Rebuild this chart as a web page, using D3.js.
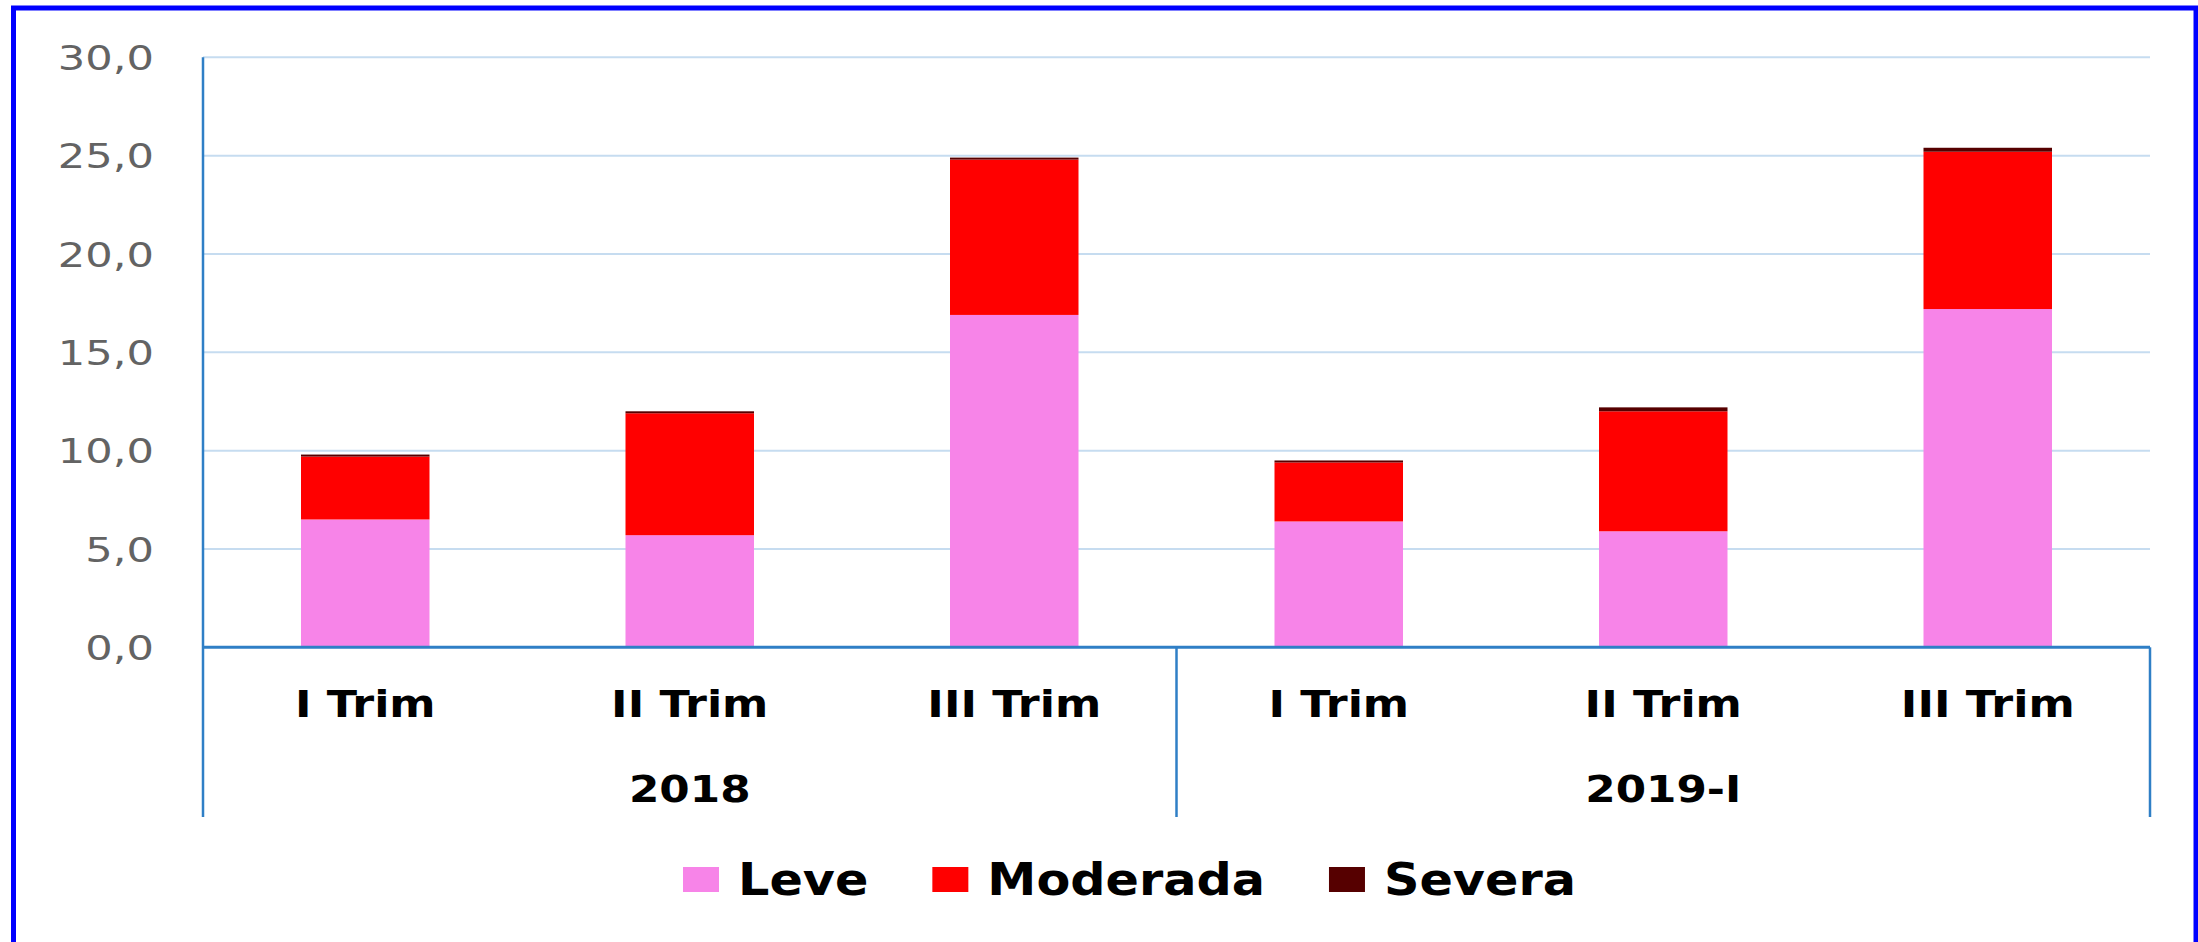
<!DOCTYPE html>
<head>
<meta charset="utf-8">
<title>Anemia por trimestre</title>
<style>
  body { margin: 0; background: #fff; }
  svg { display: block; }
</style>
</head>
<body>
<div id="chart"></div>

<script src="https://cdn.jsdelivr.net/npm/d3@7"></script>
<script>
// data
const years = ["2018", "2019-I"];
const quarters = ["I Trim", "II Trim", "III Trim", "I Trim", "II Trim", "III Trim"];
const series = ["Leve", "Moderada", "Severa"];
const leve     = [6.5, 5.7, 16.9, 6.4, 5.9, 17.2];
const moderada = [3.2, 6.2, 7.9, 3.0, 6.1, 8.0];
const severa   = [0.1, 0.1, 0.1, 0.1, 0.2, 0.2];
const yTicks = [0, 5, 10, 15, 20, 25, 30];

const colors = { Leve: "#f784e8", Moderada: "#ff0000", Severa: "#560000" };

const W = 2198, H = 942;
const plot = { left: 203, right: 2150, top: 57.3, bottom: 647.3, axisEnd: 817 };

const rows = quarters.map((q, i) => ({ idx: i, Leve: leve[i], Moderada: moderada[i], Severa: severa[i] }));

const svg = d3.select("#chart").append("svg")
    .attr("width", W)
    .attr("height", H);

// outer blue frame
svg.append("rect")
    .attr("x", 13.5).attr("y", 8)
    .attr("width", 2196 - 13.5).attr("height", 1000)
    .attr("fill", "none")
    .attr("stroke", "#0000ff")
    .attr("stroke-width", 5);

const x = d3.scaleBand()
    .domain(rows.map(d => d.idx))
    .range([plot.left, plot.right])
    .paddingInner(0.604)
    .paddingOuter(0.302);

const y = d3.scaleLinear()
    .domain([0, 30])
    .range([plot.bottom, plot.top]);

const comma = v => d3.format(".1f")(v).replace(".", ",");

//
// gridlines
//
svg.append("g")
    .selectAll("line")
    .data(yTicks.filter(t => t > 0))
    .join("line")
    .attr("x1", plot.left).attr("x2", plot.right)
    .attr("y1", d => y(d)).attr("y2", d => y(d))
    .attr("stroke", "#c6dcf0")
    .attr("stroke-width", 2);

//
// y axis
//
const yAxis = svg.append("g")
    .attr("transform", `translate(${plot.left},0)`)
    .call(d3.axisLeft(y).tickValues(yTicks).tickSize(0).tickFormat(comma));
yAxis.select(".domain").remove();
yAxis.selectAll(".tick text")
    .attr("x", 0)
    .attr("dy", "0.36em")
    .attr("transform", "translate(-49,0) scale(1.27,1)")
    .attr("fill", "#636363")
    .style("font-family", "'DejaVu Sans', sans-serif")
    .style("font-size", "34px");

//
// stacked bars
//
const stacked = d3.stack().keys(series)(rows);

svg.append("g")
    .selectAll("g")
    .data(stacked)
    .join("g")
    .attr("fill", d => colors[d.key])
    .selectAll("rect")
    .data(d => d)
    .join("rect")
    .attr("x", d => x(d.data.idx))
    .attr("width", x.bandwidth())
    .attr("y", d => y(d[1]))
    .attr("height", d => y(d[0]) - y(d[1]));

//
// axis lines and category separators
//
const axisColor = "#2f7fc6";
svg.append("line")
    .attr("x1", plot.left).attr("x2", plot.left)
    .attr("y1", plot.top).attr("y2", plot.axisEnd)
    .attr("stroke", axisColor).attr("stroke-width", 2.5);
svg.append("line")
    .attr("x1", plot.left).attr("x2", plot.right)
    .attr("y1", y(0)).attr("y2", y(0))
    .attr("stroke", axisColor).attr("stroke-width", 3);

const perYear = quarters.length / years.length;
const seps = d3.range(1, years.length + 1).map(k => x.step() * perYear * k + plot.left);
svg.append("g")
    .selectAll("line")
    .data(seps)
    .join("line")
    .attr("x1", d => d).attr("x2", d => d)
    .attr("y1", y(0)).attr("y2", plot.axisEnd)
    .attr("stroke", axisColor).attr("stroke-width", 2.5);

//
// category labels
//
const boldFont = "'DejaVu Sans', sans-serif";
svg.append("g")
    .selectAll("text")
    .data(rows)
    .join("text")
    .attr("transform", d => `translate(${x(d.idx) + x.bandwidth() / 2},717) scale(1.2,1)`)
    .attr("text-anchor", "middle")
    .style("font-family", boldFont)
    .style("font-weight", "bold")
    .style("font-size", "37px")
    .text(d => quarters[d.idx]);

svg.append("g")
    .selectAll("text")
    .data(years)
    .join("text")
    .attr("transform", (d, i) => `translate(${plot.left + x.step() * perYear * (i + 0.5)},802) scale(1.15,1)`)
    .attr("text-anchor", "middle")
    .style("font-family", boldFont)
    .style("font-weight", "bold")
    .style("font-size", "38px")
    .text(d => d);

//
// legend
//
const legend = svg.append("g").attr("transform", "translate(683,0)");
let lx = 0;
series.forEach(key => {
    legend.append("rect")
        .attr("x", lx).attr("y", 867)
        .attr("width", 36).attr("height", 25)
        .attr("fill", colors[key]);
    const t = legend.append("text")
        .attr("transform", `translate(${lx + 55},895) scale(1.12,1)`)
        .style("font-family", boldFont)
        .style("font-weight", "bold")
        .style("font-size", "44px")
        .text(key);
    lx += 55 + t.node().getComputedTextLength() * 1.12 + 64;
});
</script>
</body>
